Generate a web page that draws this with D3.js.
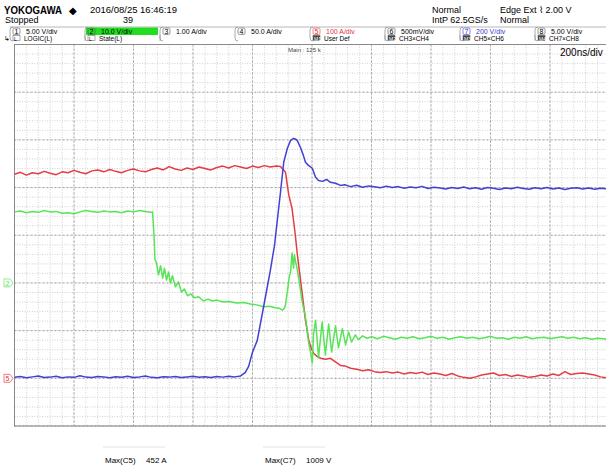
<!DOCTYPE html>
<html><head><meta charset="utf-8">
<script src="https://cdn.jsdelivr.net/npm/d3@7/dist/d3.min.js"></script>
<style>
body{margin:0;background:#fff}
svg{display:block}
text{font-family:"Liberation Sans",Arial,sans-serif}
</style>
</head><body><div id="chart"></div>
<script>
// ---------- DATA ----------
const timeDomainNs = [0, 2000];          // 10 div x 200 ns/div
const timeDivNs = 200;
const voltDivs = 8;

// C7 (blue) voltage, [time ns, V]
const c7Voltage = [[0,4],[20,8],[40,2],[60,6],[80,10],[100,3],[120,5],[140,9],[160,2],[180,6],[200,4],[220,11],[240,5],[260,3],[280,8],[300,6],[320,2],[340,7],[360,4],[380,9],[400,3],[420,6],[440,10],[460,4],[480,2],[500,7],[520,5],[540,8],[560,3],[580,6],[600,9],[620,4],[640,7],[660,3],[680,8],[700,5],[720,9],[740,6],[760,10],
[776,25],[787,50],[800,109],[816,159],[837,298],[860,453],[874,558],[894,780],[905,906],[917,964],[928,998],[938,1006],[944,1004],[950,998],[961,969],[971,935],[978,906],[988,893],[1001,881],[1012,843],[1022,830],[1035,826],[1049,834],[1062,822],[1079,818],[1096,809],
[1110,812],[1130,804],[1150,810],[1170,801],[1190,807],[1210,803],[1230,799],[1250,806],[1270,800],[1290,804],[1310,797],[1330,802],[1350,799],[1370,805],[1390,796],[1410,801],[1430,798],[1450,794],[1470,800],[1490,796],[1510,802],[1530,795],[1550,799],[1570,793],[1590,800],[1610,797],[1630,792],[1650,798],[1670,795],[1690,801],[1710,796],[1730,793],[1750,799],[1770,795],[1790,800],[1810,794],[1830,798],[1850,792],[1870,797],[1890,799],[1910,794],[1930,798],[1950,793],[1970,797],[1990,795],[2000,798]];

// C5 (red) current, [time ns, A]
const c5Current = [[0,428],[20,432],[40,426],[60,431],[80,429],[100,434],[120,430],[140,427],[160,433],[180,431],[200,436],[220,432],[240,429],[260,435],[280,437],[300,433],[320,438],[340,434],[360,431],[380,436],[400,439],[420,435],[440,433],[460,438],[480,441],[500,437],[520,444],[540,439],[560,436],[580,441],[600,438],[620,443],[640,440],[660,437],[680,442],[700,445],[720,441],[740,446],[760,443],[780,440],[800,445],[820,442],[840,446],[860,443],[880,445],[894,444],
[911,432],[922,384],[933,356],[944,300],[951,258],[956,233],[967,178],[978,122],[989,80],[998,62],[1006,52],[1017,46],[1029,42],[1045,40],[1062,42],[1080,34],[1096,27],
[1110,26],[1130,21],[1150,19],[1170,16],[1190,18],[1210,14],[1230,12],[1250,14],[1270,11],[1290,13],[1310,9],[1330,12],[1350,10],[1370,13],[1390,8],[1410,11],[1430,9],[1450,6],[1470,10],[1490,5],[1510,2],[1530,0],[1550,3],[1570,7],[1590,9],[1610,11],[1630,6],[1650,8],[1670,4],[1690,7],[1710,5],[1730,2],[1750,4],[1770,7],[1790,5],[1810,9],[1830,6],[1850,14],[1870,8],[1890,10],[1910,11],[1930,9],[1950,7],[1970,3],[1990,1],[2000,2]];

// C2 (green) voltage, [time ns, V]
const c2Voltage = [[0,14.9],[20,15.1],[40,14.7],[60,15.0],[80,14.8],[100,15.2],[120,14.9],[140,15.0],[160,14.6],[180,14.7],[200,14.5],[220,14.9],[240,15.2],[260,15.0],[280,14.8],[300,15.1],[320,14.9],[340,15.0],[360,14.7],[380,15.1],[400,14.9],[420,15.2],[440,15.0],[460,14.8],[464,14.9],
[469,10],[472,5],[477,4.2],[484,1.7],[491,3.6],[498,1.0],[504,3.1],[511,0.6],[518,2.3],[524,0.0],[531,1.5],[541,-0.8],[551,0.2],[561,-1.9],[571,-1.3],[582,-2.7],[592,-2.3],[605,-3.1],[619,-2.9],[635,-3.8],[650,-3.4],[665,-3.8],[680,-3.6],[700,-4.0],[720,-3.9],[746,-4.2],[770,-4.1],[793,-4.4],[815,-4.6],[837,-5.0],[857,-4.9],[877,-5.2],[890,-5.3],[900,-5.7],[906,-5.4],
[911,-4.6],[918,-1.5],[924,1.5],[928,2.3],[933,6.3],[938,3.1],[941,5.9],[945,4.4],[951,2.7],[958,-0.2],[967,-3.9],[978,-7.1],[989,-12.6],[995,-14.5],[1001,-16.8],[1005,-10.9],[1012,-7.8],[1022,-15.7],[1034,-8.2],[1045,-15.1],[1056,-8.6],[1066,-14.5],[1079,-9.0],[1089,-13.6],[1102,-9.6],[1113,-13.0],[1123,-10.3],[1133,-12.4],[1146,-10.9],[1156,-11.9],[1170,-11.1],[1185,-11.6],[1200,-11.3],
[1220,-11.7],[1240,-11.2],[1260,-11.5],[1280,-11.8],[1300,-11.4],[1320,-11.6],[1340,-11.3],[1360,-11.7],[1380,-11.5],[1400,-11.2],[1420,-11.6],[1440,-11.4],[1460,-11.8],[1480,-11.5],[1500,-11.3],[1520,-11.6],[1540,-11.4],[1560,-11.7],[1580,-11.5],[1600,-11.2],[1620,-11.6],[1640,-11.5],[1660,-11.8],[1680,-11.4],[1700,-11.6],[1720,-11.3],[1740,-11.7],[1760,-11.5],[1780,-11.4],[1800,-11.7],[1820,-11.5],[1840,-11.3],[1860,-11.6],[1880,-11.4],[1900,-11.7],[1920,-11.5],[1940,-11.8],[1960,-11.6],[1980,-11.7],[2000,-11.9]];

// scale settings per channel: units/div and ground position (div from bottom)
const channelNames = ["C2","C5","C7"];
const channelPerDiv = [10, 100, 200];
const channelOffsetDiv = [3, 1, 1];

// header texts
const channelNumbers = ["1","2","3","4","5","6","7","8"];
const channelRanges = ["5.00 V/div","10.0 V/div","1.00 A/div","50.0 A/div","100 A/div","500mV/div","200 V/div","5.00 V/div"];
const channelSubIcons = ["L","L","","","M1","M2","M3","M4"];
const channelSubLabels = ["LOGIC(L)","State(L)","","","User Def","CH3×CH4","CH5×CH6","CH7×CH8"];
const measureLabels = ["Max(C5)","Max(C7)"];
const measureValues = ["452 A","1009 V"];

// ---------- DRAW ----------
(function () {
const W = 606, H = 466;
const pL = 14.5, pR = 609.5, pT = 44.5, pB = 426;
const svg = d3.select("#chart").append("svg").attr("width", W).attr("height", H);

const x = d3.scaleLinear().domain(timeDomainNs).range([pL, pR]);
const yDiv = d3.scaleLinear().domain([0, voltDivs]).range([pB, pT]);

// minor grid
const g = svg.append("g");
const minorX = d3.range(timeDomainNs[0], timeDomainNs[1] + 1, timeDivNs / 5);
const minorY = d3.range(0, voltDivs + 0.001, 0.2);
g.selectAll(".mx").data(minorX).join("line")
  .attr("x1", d => x(d)).attr("x2", d => x(d)).attr("y1", pT).attr("y2", pB)
  .attr("stroke", "#cdcdcd").attr("stroke-width", 0.9).attr("stroke-dasharray", "1,1.5");
g.selectAll(".my").data(minorY).join("line")
  .attr("y1", d => yDiv(d)).attr("y2", d => yDiv(d)).attr("x1", pL).attr("x2", pR)
  .attr("stroke", "#cdcdcd").attr("stroke-width", 0.9).attr("stroke-dasharray", "1,1.5");
// major grid
const majorX = d3.range(timeDomainNs[0], timeDomainNs[1] + 1, timeDivNs);
const majorY = d3.range(0, voltDivs + 1, 1);
g.selectAll(".Mx").data(majorX).join("line")
  .attr("x1", d => x(d)).attr("x2", d => x(d)).attr("y1", pT).attr("y2", pB)
  .attr("stroke", "#9c9c9c").attr("stroke-width", 0.9).attr("stroke-dasharray", "2,2");
g.selectAll(".My").data(majorY).join("line")
  .attr("y1", d => yDiv(d)).attr("y2", d => yDiv(d)).attr("x1", pL).attr("x2", pR)
  .attr("stroke", "#9c9c9c").attr("stroke-width", 0.9).attr("stroke-dasharray", "2,2");
// border
svg.append("rect").attr("x", pL).attr("y", pT).attr("width", pR - pL).attr("height", pB - pT)
  .attr("fill", "none").attr("stroke", "#8a8a8a").attr("stroke-width", 1);

// traces
const traceData = [c2Voltage, c5Current, c7Voltage];
const traceColors = ["#4ee34e", "#e5323a", "#3838d0"];
svg.append("clipPath").attr("id", "clip").append("rect")
  .attr("x", pL).attr("y", pT).attr("width", pR - pL).attr("height", pB - pT);
const tg = svg.append("g").attr("clip-path", "url(#clip)");
[1, 0, 2].forEach(i => {
  const off = channelOffsetDiv[i], pd = channelPerDiv[i];
  const y = d3.scaleLinear().domain([-off * pd, (voltDivs - off) * pd]).range([pB, pT]);
  const line = d3.line().x(d => x(d[0])).y(d => y(d[1]));
  tg.append("path").datum(traceData[i]).attr("d", line)
    .attr("fill", "none").attr("stroke", traceColors[i]).attr("stroke-width", 1.5)
    .attr("stroke-linejoin", "round").attr("opacity", 0.95);
});

// ground markers
[[0, "2"], [1, "5"]].forEach(([i, lab]) => {
  const yy = yDiv(channelOffsetDiv[i]);
  const mg = svg.append("g").attr("transform", `translate(4,${yy})`);
  mg.append("path").attr("d", "M0,-4 L6,-4 L9,0 L6,4 L0,4 Z").attr("fill", "none")
    .attr("stroke", traceColors[i]).attr("stroke-width", 0.8).attr("opacity", 0.8);
  mg.append("text").attr("x", 1.5).attr("y", 3).attr("font-size", 7).attr("fill", traceColors[i]).text(lab);
});

// header
svg.append("text").attr("x", 4).attr("y", 14).attr("font-size", 11).attr("font-weight", "bold")
  .attr("textLength", 58).attr("lengthAdjust", "spacingAndGlyphs").text("YOKOGAWA");
svg.append("text").attr("x", 69).attr("y", 14).attr("font-size", 10).text("◆");
svg.append("text").attr("x", 90).attr("y", 13).attr("font-size", 9)
  .attr("textLength", 87).attr("lengthAdjust", "spacingAndGlyphs").text("2016/08/25 16:46:19");
svg.append("text").attr("x", 5).attr("y", 23).attr("font-size", 9).text("Stopped");
svg.append("text").attr("x", 123).attr("y", 23).attr("font-size", 9).text("39");
svg.append("text").attr("x", 432).attr("y", 13).attr("font-size", 9).text("Normal");
svg.append("text").attr("x", 500).attr("y", 13).attr("font-size", 9).text("Edge Ext ⌇ 2.00 V");
svg.append("text").attr("x", 432).attr("y", 23).attr("font-size", 9).text("IntP 62.5GS/s");
svg.append("text").attr("x", 500).attr("y", 23).attr("font-size", 9).text("Normal");

const cellX = d3.scaleLinear().domain([0, 8]).range([10, 610]);
const cellColor = ["#000", "#000", "#000", "#000", "#e5323a", "#000", "#3838d0", "#000"];
channelNumbers.forEach((n, i) => {
  const x0 = cellX(i);
  const cg = svg.append("g");
  cg.append("path").attr("d", `M${x0 + 3},27 Q${x0},27 ${x0},30 L${x0},38 Q${x0},41 ${x0 + 3},41`)
    .attr("fill", "none").attr("stroke", "#888").attr("stroke-width", 0.7);
  cg.append("line").attr("x1", x0).attr("x2", x0 + 75).attr("y1", 27).attr("y2", 27).attr("stroke", "#888").attr("stroke-width", 0.6);
  if (channelSubLabels[i] || i < 2) {
    cg.append("line").attr("x1", x0 + 75).attr("x2", x0 + 75).attr("y1", 35).attr("y2", 41).attr("stroke", "#888").attr("stroke-width", 0.6);
  }
  if (i === 1) cg.append("rect").attr("x", x0 + 1).attr("y", 27.5).attr("width", 72).attr("height", 7.5).attr("fill", "#22dd22");
  cg.append("rect").attr("x", x0 + 3).attr("y", 28).attr("width", 7).attr("height", 6.5).attr("rx", 1.5)
    .attr("fill", "none").attr("stroke", cellColor[i] === "#000" ? "#555" : cellColor[i]).attr("stroke-width", 0.6);
  cg.append("text").attr("x", x0 + 4.5).attr("y", 34).attr("font-size", 7).attr("fill", cellColor[i]).text(n);
  cg.append("text").attr("x", x0 + 16).attr("y", 34).attr("font-size", 7).attr("fill", cellColor[i]).text(channelRanges[i]);
  if (channelSubLabels[i]) {
    cg.append("rect").attr("x", x0 + 3).attr("y", 35.5).attr("width", 7).attr("height", 5).attr("fill", channelSubIcons[i] === "L" ? "none" : "#444").attr("stroke", "#555").attr("stroke-width", 0.5);
    cg.append("text").attr("x", x0 + 4).attr("y", 40.5).attr("font-size", 5).attr("fill", channelSubIcons[i] === "L" ? "#000" : "#fff").text(channelSubIcons[i]);
    cg.append("text").attr("x", x0 + 14).attr("y", 41).attr("font-size", 6.5).text(channelSubLabels[i]);
  }
});
svg.append("text").attr("x", 4).attr("y", 41).attr("font-size", 7).text("↳");

svg.append("text").attr("x", 288).attr("y", 52).attr("font-size", 6).attr("fill", "#444").text("Main : 125 k");
svg.append("text").attr("x", 560).attr("y", 56).attr("font-size", 10).text(`${timeDivNs}ns/div`);

// measurements
const mx = [105, 265];
measureLabels.forEach((m, i) => {
  svg.append("line").attr("x1", mx[i] - 2).attr("x2", mx[i] + 60).attr("y1", 447).attr("y2", 447)
    .attr("stroke", "#e4e4e4").attr("stroke-width", 1);
  svg.append("text").attr("x", mx[i]).attr("y", 463).attr("font-size", 8).text(m);
  svg.append("text").attr("x", mx[i] + 41).attr("y", 463).attr("font-size", 8).text(measureValues[i]);
});
})();
</script>
</body></html>
